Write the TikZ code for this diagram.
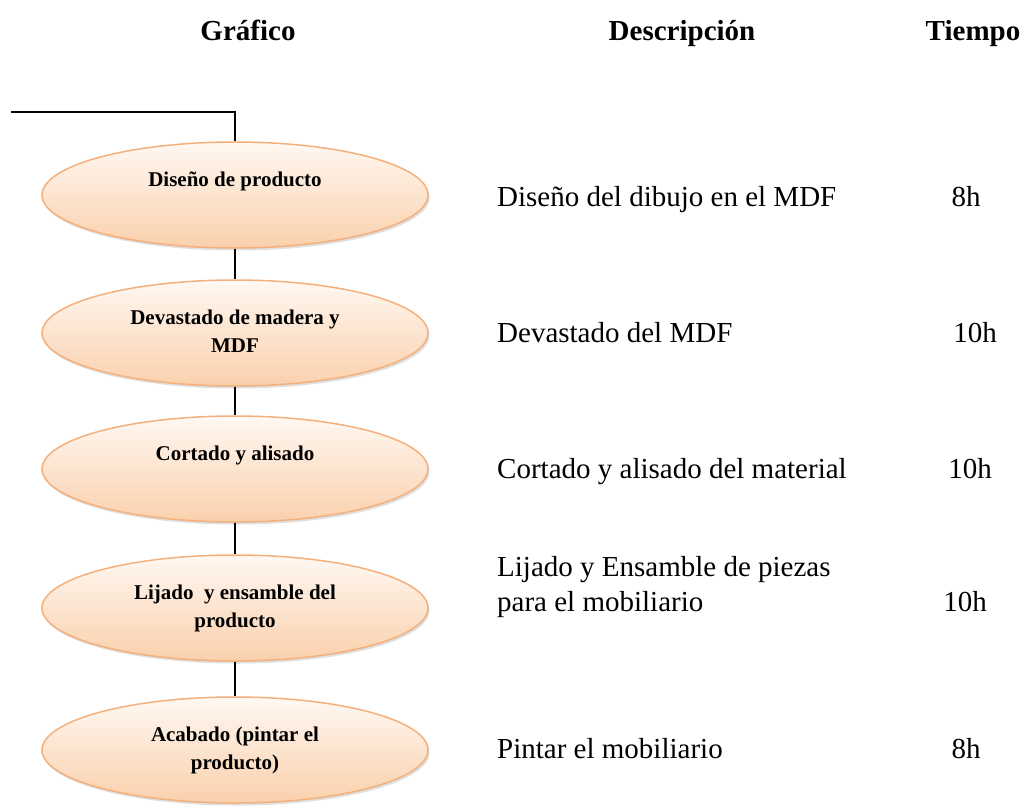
\documentclass[tikz,border=0pt]{standalone}
\usepackage{fontspec}
\setmainfont{Liberation Serif}
\usetikzlibrary{shapes.geometric, shadows}
\usepackage{xcolor}
\definecolor{ellline}{HTML}{F4B07C}
\definecolor{elltop}{HTML}{FFF8F2}
\definecolor{ellbottom}{HTML}{FAD0AC}

\tikzset{
  paso/.style={ellipse, draw=ellline, line width=1.5pt, top color=elltop, bottom color=ellbottom, minimum width=386pt, minimum height=106pt, inner sep=0pt, font=\fontsize{21}{28}\selectfont\bfseries, drop shadow={opacity=0.25, shadow xshift=1.5pt, shadow yshift=-2.5pt}},
  desc/.style={font=\fontsize{29}{35}\selectfont, align=left, inner sep=0pt},
  tiempo/.style={anchor=base, font=\fontsize{29}{35}\selectfont, inner sep=0pt},
  titulo/.style={anchor=base, font=\fontsize{29}{35}\selectfont\bfseries, inner sep=0pt},
  enlace/.style={draw=black, line width=1.3pt}
}
\newcommand{\pasotexto}[1]{\parbox[c][56pt][t]{240pt}{\centering\strut #1}}

\begin{document}
\begin{tikzpicture}[x=1pt, y=-1pt]
\useasboundingbox (0,0) rectangle (1027,806);

%%% TITLES
\node [titulo] (grafico-tit) at (248,40) {Gráfico};
\node [titulo] (desc-tit) at (682,40) {Descripción};
\node [titulo] (tiempo-tit) at (973,40) {Tiempo};

%%% STEPS
\node [paso] (diseno-el) at (235,195) {\pasotexto{Diseño de producto}};
\node [paso] (devastado-el) at (235,333) {\pasotexto{Devastado de madera y\\ MDF}};
\node [paso] (cortado-el) at (235,469) {\pasotexto{Cortado y alisado}};
\node [paso] (lijado-el) at (235,608) {\pasotexto{Lijado\ \ y ensamble del\\ producto}};
\node [paso] (acabado-el) at (235,750) {\pasotexto{Acabado (pintar el\\ producto)}};

%%% DESCRIPTIONS
\node [desc, anchor=base west] (diseno-desc) at (497,206) {Diseño del dibujo en el MDF};
\node [desc, anchor=base west] (devastado-desc) at (497,342) {Devastado del MDF};
\node [desc, anchor=base west] (cortado-desc) at (497,478) {Cortado y alisado del material};
\node [desc, anchor=west] (lijado-desc) at (497,587) {Lijado y Ensamble de piezas\\ para el mobiliario};
\node [desc, anchor=base west] (acabado-desc) at (497,758) {Pintar el mobiliario};

%%% TIMES
\node [tiempo] (diseno-t) at (966,206) {8h};
\node [tiempo] (devastado-t) at (975,342) {10h};
\node [tiempo] (cortado-t) at (970,478) {10h};
\node [tiempo] (lijado-t) at (965,611) {10h};
\node [tiempo] (acabado-t) at (966,758) {8h};

%%% connections
\coordinate (inicio) at (11,112);
\draw [enlace] (inicio) -| (diseno-el.north);
\draw [enlace] (diseno-el) -- (devastado-el);
\draw [enlace] (devastado-el) -- (cortado-el);
\draw [enlace] (cortado-el) -- (lijado-el);
\draw [enlace] (lijado-el) -- (acabado-el);

\end{tikzpicture}
\end{document}
